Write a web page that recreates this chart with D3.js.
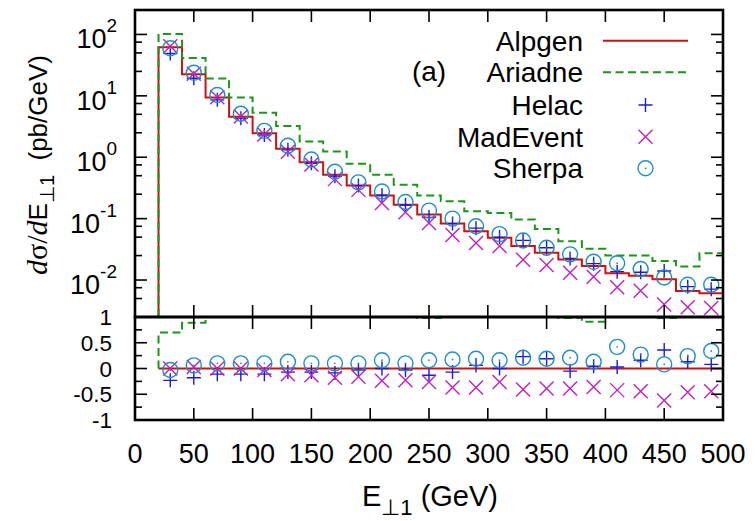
<!DOCTYPE html>
<html>
<head>
<meta charset="utf-8">
<script src="https://cdn.jsdelivr.net/npm/d3@7"></script>
<style>
  body { margin: 0; background: #fff; }
  text { font-family: "Liberation Sans", Arial, Helvetica, sans-serif; fill: #000; }
</style>
</head>
<body>
<div id="chart"></div>
<script>
// Bin edges (GeV) and bin centres where the points sit
var binEdges = [20, 40, 60, 80, 100, 120, 140, 160, 180, 200, 220, 240, 260,
  280, 300, 320, 340, 360, 380, 400, 420, 440, 460, 480, 500];
var binCenters = [30, 50, 70, 90, 110, 130, 150, 170, 190, 210, 230, 250, 270,
  290, 310, 330, 350, 370, 390, 410, 430, 450, 470, 490];

// dsigma/dE (pb/GeV)
var alpgen = [62, 22.5, 9.4, 4.57, 2.46, 1.37, 0.83, 0.52, 0.348, 0.237, 0.169, 0.117,
  0.083, 0.0625, 0.0489, 0.0357, 0.0279, 0.0217, 0.0169, 0.0129, 0.0117, 0.0103, 0.00665, 0.0061];
var ariadne = [102, 41.3, 19.1, 9.4, 5.3, 3.23, 1.8, 1.24, 0.78, 0.52, 0.357, 0.237,
  0.192, 0.132, 0.124, 0.0966, 0.068, 0.043, 0.0323, 0.0252, 0.0252, 0.0204, 0.0166, 0.0272];
var helac = [49, 19.3, 8.6, 4.3, 2.3, 1.32, 0.8, 0.49, 0.345, 0.24, 0.167, 0.105,
  0.083, 0.07, 0.05, 0.0443, 0.0335, 0.0225, 0.0185, 0.0137, 0.0134, 0.014, 0.0078, 0.0071];
var madevent = [64, 22.8, 9.5, 4.6, 2.35, 1.23, 0.76, 0.44, 0.294, 0.18, 0.127, 0.085,
  0.054, 0.040, 0.0358, 0.0214, 0.0175, 0.0132, 0.0113, 0.0076, 0.0067, 0.0040, 0.0036, 0.0035];
var sherpa = [59.5, 23.7, 10.3, 5.1, 2.69, 1.54, 0.92, 0.58, 0.39, 0.277, 0.187, 0.135,
  0.1, 0.075, 0.056, 0.044, 0.0335, 0.0262, 0.0198, 0.0188, 0.0151, 0.011, 0.0084, 0.0084];

// relative deviation from Alpgen
var ariadneRatio = [0.70, 0.89, 1.03, 1.06, 1.15, 1.36, 1.17, 1.38, 1.24, 1.19, 1.11, 0.98,
  1.31, 1.11, 1.54, 1.71, 1.44, 0.98, 0.91, 1.02, 1.1, 0.98, 1.5, 2.5];
var helacRatio = [-0.23, -0.18, -0.11, -0.11, -0.11, -0.07, -0.07, -0.085, -0.03, 0.0, -0.03, -0.13,
  -0.07, 0.06, 0.0, 0.23, 0.19, -0.05, 0.045, 0.03, 0.16, 0.36, 0.13, 0.08];
var madeventRatio = [0.0, 0.03, 0.0, 0.0, -0.03, -0.11, -0.13, -0.18, -0.16, -0.24, -0.23, -0.26,
  -0.37, -0.37, -0.26, -0.41, -0.39, -0.39, -0.36, -0.42, -0.44, -0.62, -0.46, -0.44];
var sherpaRatio = [-0.03, 0.06, 0.1, 0.1, 0.1, 0.13, 0.1, 0.1, 0.1, 0.16, 0.1, 0.16,
  0.175, 0.19, 0.16, 0.21, 0.19, 0.21, 0.13, 0.42, 0.27, 0.08, 0.24, 0.34];

// ticks
var xTicks = [0, 50, 100, 150, 200, 250, 300, 350, 400, 450, 500];
var logMajor = [1e-2, 1e-1, 1e0, 1e1, 1e2];
var logExp = ["-2", "-1", "0", "1", "2"];
var logMinorFactors = [2.5, 5, 7.5];
var ratioTicks = [-1, -0.5, 0, 0.5, 1];
var ratioMinor = [-0.75, -0.25, 0.25, 0.75];

var seriesNames = ["Alpgen", "Ariadne", "Helac", "MadEvent", "Sherpa"];

var colors = {
  Alpgen: "#d01010",
  Ariadne: "#1a961a",
  Helac: "#1a1ad8",
  MadEvent: "#c020c0",
  Sherpa: "#1e8ec8"
};

var svgWidth = 755;
var svgHeight = 521;

var margin = { top: 10, right: 32, bottom: 101, left: 135 };
var plotWidth = svgWidth - margin.left - margin.right;
var splitY = 317;            // boundary between the two panels
var bottomY = svgHeight - margin.bottom;

var svg = d3.select("#chart")
  .append("svg")
  .attr("width", svgWidth)
  .attr("height", svgHeight);

// scales
var xScale = d3.scaleLinear().domain([0, 500]).range([margin.left, margin.left + plotWidth]);
var yTop = d3.scaleLog().domain([0.0025, 250]).range([splitY, margin.top]);
var yBot = d3.scaleLinear().domain([-1, 1]).range([bottomY, splitY]);

var x0 = xScale.range()[0], x1 = xScale.range()[1];

// clip regions
var defs = svg.append("defs");
defs.append("clipPath").attr("id", "clipTop").append("rect")
  .attr("x", x0).attr("y", margin.top).attr("width", x1 - x0).attr("height", splitY - margin.top);
defs.append("clipPath").attr("id", "clipBot").append("rect")
  .attr("x", x0).attr("y", splitY).attr("width", x1 - x0).attr("height", bottomY - splitY);

// histogram steps, rising from the baseline at the first edge
function stepPoints(vals, base) {
  var pts = [[binEdges[0], base]];
  vals.forEach(function(v, i) {
    pts.push([binEdges[i], v]);
    pts.push([binEdges[i + 1], v]);
  });
  return pts;
}

var topLine = d3.line().x(d => xScale(d[0])).y(d => yTop(d[1]));
var botLine = d3.line().x(d => xScale(d[0])).y(d => yBot(d[1]));

var topG = svg.append("g").attr("clip-path", "url(#clipTop)");
var botG = svg.append("g").attr("clip-path", "url(#clipBot)");

// upper panel histograms
topG.append("path")
  .attr("d", topLine(stepPoints(alpgen, yTop.domain()[0])))
  .attr("fill", "none").attr("stroke", colors.Alpgen).attr("stroke-width", 2);
topG.append("path")
  .attr("d", topLine(stepPoints(ariadne, yTop.domain()[0])))
  .attr("fill", "none").attr("stroke", colors.Ariadne).attr("stroke-width", 2)
  .attr("stroke-dasharray", "8,4.5");

// lower panel: Alpgen reference line and Ariadne deviation
botG.append("line")
  .attr("x1", xScale(binEdges[0])).attr("x2", xScale(binEdges[binEdges.length - 1]))
  .attr("y1", yBot(0)).attr("y2", yBot(0))
  .attr("stroke", colors.Alpgen).attr("stroke-width", 2);
botG.append("path")
  .attr("d", botLine(stepPoints(ariadneRatio, 0)))
  .attr("fill", "none").attr("stroke", colors.Ariadne).attr("stroke-width", 2)
  .attr("stroke-dasharray", "8,4.5");

// point markers
function drawPlus(g, cx, cy, color) {
  var s = 7;
  g.append("path")
    .attr("d", "M" + (cx - s) + "," + cy + "H" + (cx + s) + "M" + cx + "," + (cy - s) + "V" + (cy + s))
    .attr("stroke", color).attr("stroke-width", 1.4).attr("fill", "none");
}
function drawCross(g, cx, cy, color) {
  var s = 7;
  g.append("path")
    .attr("d", "M" + (cx - s) + "," + (cy - s) + "L" + (cx + s) + "," + (cy + s) +
      "M" + (cx - s) + "," + (cy + s) + "L" + (cx + s) + "," + (cy - s))
    .attr("stroke", color).attr("stroke-width", 1.4).attr("fill", "none");
}
function drawCircleDot(g, cx, cy, color) {
  g.append("circle").attr("cx", cx).attr("cy", cy).attr("r", 7.5)
    .attr("stroke", color).attr("stroke-width", 1.4).attr("fill", "none");
  g.append("circle").attr("cx", cx).attr("cy", cy).attr("r", 0.9).attr("fill", color);
}

binCenters.forEach(function(c, i) {
  var cx = xScale(c);
  drawPlus(topG, cx, yTop(helac[i]), colors.Helac);
  drawCross(topG, cx, yTop(madevent[i]), colors.MadEvent);
  drawCircleDot(topG, cx, yTop(sherpa[i]), colors.Sherpa);
  drawPlus(botG, cx, yBot(helacRatio[i]), colors.Helac);
  drawCross(botG, cx, yBot(madeventRatio[i]), colors.MadEvent);
  drawCircleDot(botG, cx, yBot(sherpaRatio[i]), colors.Sherpa);
});

// ticks
var tickG = svg.append("g").attr("stroke", "#000").attr("stroke-width", 1.6);
var majorLen = 12, minorLen = 7;

xTicks.forEach(function(t) {
  var x = xScale(t);
  [[margin.top, majorLen], [splitY, -majorLen], [splitY, majorLen], [bottomY, -majorLen]].forEach(function(p) {
    tickG.append("line").attr("x1", x).attr("x2", x).attr("y1", p[0]).attr("y2", p[0] + p[1]);
  });
});

function yTick(y, len) {
  tickG.append("line").attr("x1", x0).attr("x2", x0 + len).attr("y1", y).attr("y2", y);
  tickG.append("line").attr("x1", x1).attr("x2", x1 - len).attr("y1", y).attr("y2", y);
}
logMajor.forEach(function(v) { yTick(yTop(v), majorLen); });
[1e-3, 1e-2, 1e-1, 1e0, 1e1, 1e2].forEach(function(dec) {
  logMinorFactors.forEach(function(f) {
    var v = dec * f;
    if (v > yTop.domain()[0] && v < yTop.domain()[1]) yTick(yTop(v), minorLen);
  });
});
ratioTicks.forEach(function(v) { yTick(yBot(v), majorLen); });
ratioMinor.forEach(function(v) { yTick(yBot(v), minorLen); });

// frames
svg.append("rect").attr("x", x0).attr("y", margin.top).attr("width", x1 - x0).attr("height", splitY - margin.top)
  .attr("fill", "none").attr("stroke", "#000").attr("stroke-width", 2.6);
svg.append("rect").attr("x", x0).attr("y", splitY).attr("width", x1 - x0).attr("height", bottomY - splitY)
  .attr("fill", "none").attr("stroke", "#000").attr("stroke-width", 2.6);

// tick labels
var labelSize = 27;
xTicks.forEach(function(t) {
  svg.append("text").attr("x", xScale(t)).attr("y", 463)
    .attr("text-anchor", "middle").style("font-size", labelSize + "px").text(t);
});
logMajor.forEach(function(v, i) {
  var t = svg.append("text").attr("x", 117).attr("y", yTop(v) + 14)
    .attr("text-anchor", "end").style("font-size", labelSize + "px");
  t.append("tspan").text("10");
  t.append("tspan").attr("dy", -16).style("font-size", "19px").text(logExp[i]);
});
// the five ratio labels sit only ~26px apart, so they use a slightly smaller size
ratioTicks.forEach(function(v) {
  svg.append("text").attr("x", 112).attr("y", yBot(v) + 8)
    .attr("text-anchor", "end").style("font-size", "22.5px").text(v);
});

// axis titles
var xTitle = svg.append("text").attr("x", 430).attr("y", 506)
  .attr("text-anchor", "middle").style("font-size", "29px");
xTitle.append("tspan").text("E");
xTitle.append("tspan").attr("dy", 9).style("font-size", "22px").text("\u22a51");
xTitle.append("tspan").attr("dy", -9).text(" (GeV)");

var yTitle = svg.append("text")
  .attr("transform", "translate(47,165) rotate(-90)")
  .attr("text-anchor", "middle").style("font-size", "26px");
yTitle.append("tspan").style("font-family", "'Liberation Serif', serif").style("font-style", "italic").style("font-size", "30px").text("d");
yTitle.append("tspan").style("font-family", "'Liberation Serif', serif").style("font-size", "30px").text("\u03c3/");
yTitle.append("tspan").style("font-family", "'Liberation Serif', serif").style("font-style", "italic").style("font-size", "30px").text("d");
yTitle.append("tspan").text("E");
yTitle.append("tspan").attr("dy", 7).style("font-size", "20px").text("\u22a51");
yTitle.append("tspan").attr("dy", -7).text("\u00a0\u00a0(pb/GeV)");

// legend
var legendSize = 28;
var legendRows = [40.7, 72.3, 105, 136.7, 168.3];
var lg = svg.append("g");
seriesNames.forEach(function(name, i) {
  var cy = legendRows[i];
  lg.append("text").attr("x", 583).attr("y", cy + 10)
    .attr("text-anchor", "end").style("font-size", legendSize + "px").text(name);
  if (name === "Alpgen" || name === "Ariadne") {
    lg.append("line").attr("x1", 603).attr("x2", 688).attr("y1", cy).attr("y2", cy)
      .attr("stroke", colors[name]).attr("stroke-width", 2)
      .attr("stroke-dasharray", name === "Ariadne" ? "8,4.5" : null);
  } else if (name === "Helac") {
    drawPlus(lg, 645.5, cy, colors[name]);
  } else if (name === "MadEvent") {
    drawCross(lg, 645.5, cy, colors[name]);
  } else {
    drawCircleDot(lg, 645.5, cy, colors[name]);
  }
});

svg.append("text").attr("x", 429).attr("y", 81)
  .attr("text-anchor", "middle").style("font-size", legendSize + "px").text("(a)");
</script>
</body>
</html>
